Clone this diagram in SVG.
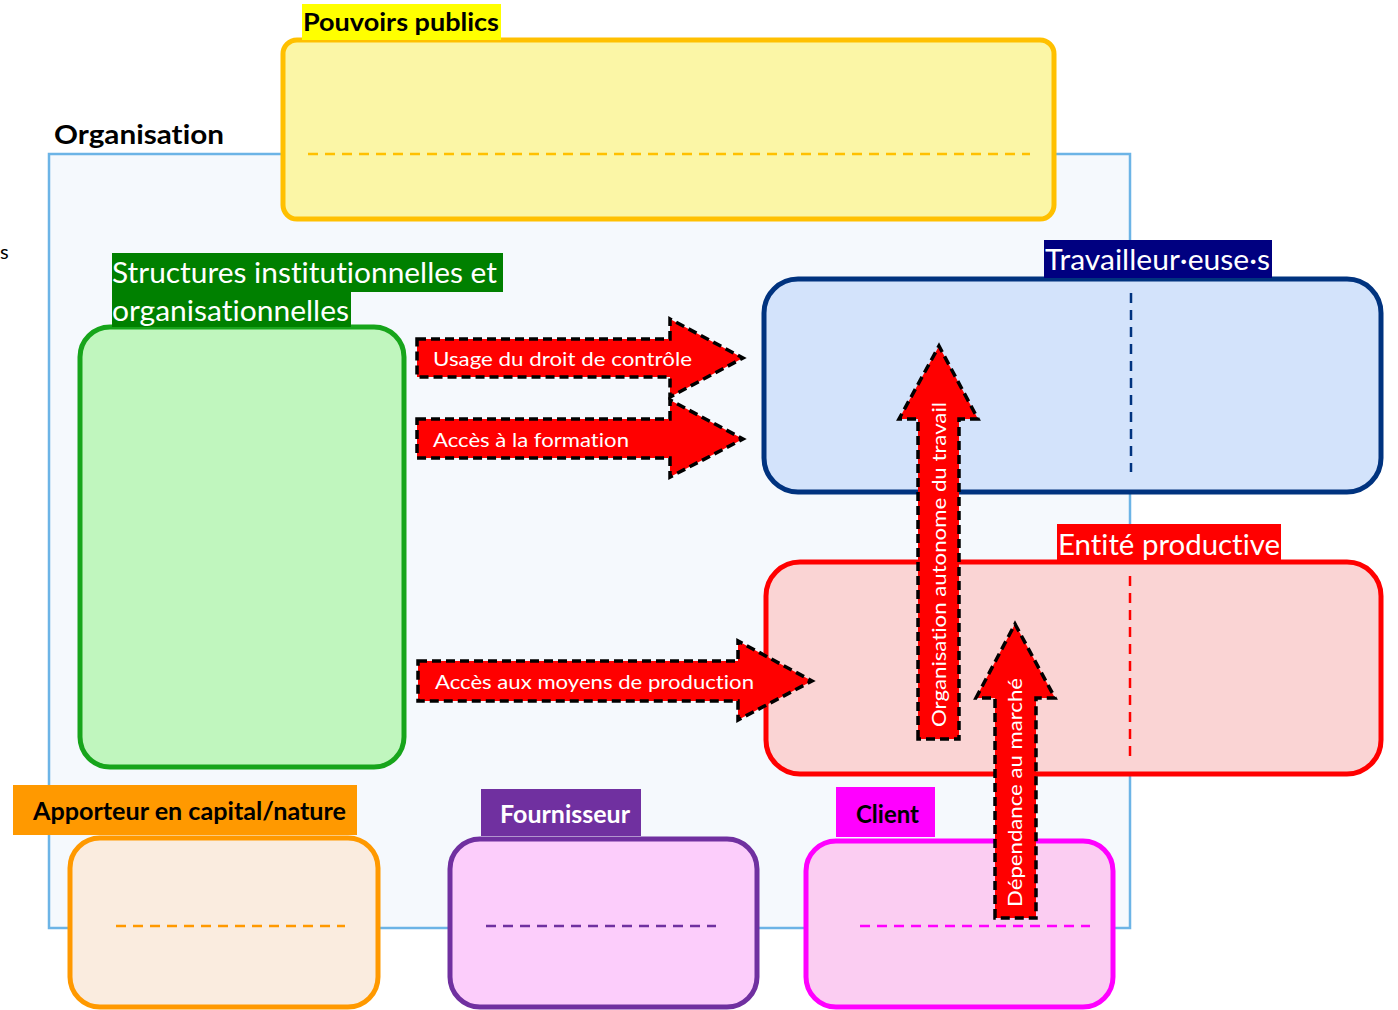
<svg xmlns="http://www.w3.org/2000/svg" width="1398" height="1010" viewBox="0 0 1398 1010">
  <style>
    .lbl { font-family: Lato, "Open Sans", "Liberation Sans", sans-serif; font-variant-ligatures: none; }
    .bold { font-weight: bold; }
    .white { fill: #ffffff; }
    .black { fill: #000000; }
    .box { stroke-width: 5; }
    .sep { stroke-width: 2.5; stroke-dasharray: 10 7; fill: none; }
    .arrow { fill: #ff0000; stroke: #000000; stroke-width: 3.5; stroke-dasharray: 9 5; stroke-linejoin: miter; }
    .atext { font-family: Lato, "Open Sans", "Liberation Sans", sans-serif; font-variant-ligatures: none; font-size: 20px; fill: #ffffff; }
  </style>

  <rect width="1398" height="1010" fill="#ffffff"/>

  <!-- stray label fragment at left border -->
  <text class="lbl black" x="0" y="259" font-size="20">s</text>

  <!-- Organisation container -->
  <g id="organisation">
    <rect x="49" y="154" width="1081" height="774" fill="#f5f9fd" stroke="#6cb4e6" stroke-width="2.5"/>
    <text class="lbl bold black" x="54" y="144" font-size="26" textLength="170" lengthAdjust="spacingAndGlyphs">Organisation</text>
  </g>

  <!-- Pouvoirs publics -->
  <g id="pouvoirs-publics">
    <rect x="283" y="40" width="771" height="179" rx="14" fill="#fbf6a6" stroke="#ffc000" class="box"/>
    <line x1="308" y1="154" x2="1030" y2="154" stroke="#ffc000" class="sep"/>
    <rect x="302" y="4" width="199" height="36" fill="#ffff00"/>
    <text class="lbl bold black" x="303" y="31" font-size="24" textLength="196" lengthAdjust="spacingAndGlyphs">Pouvoirs publics</text>
  </g>

  <!-- Structures institutionnelles et organisationnelles -->
  <g id="structures">
    <rect x="80" y="327" width="324" height="440" rx="30" fill="#c0f6be" stroke="#17a51b" class="box"/>
    <rect x="112" y="253" width="391" height="39" fill="#008000"/>
    <rect x="112" y="291" width="239" height="36" fill="#008000"/>
    <text class="lbl white" x="112" y="283" font-size="28" textLength="385" lengthAdjust="spacingAndGlyphs">Structures institutionnelles et</text>
    <text class="lbl white" x="112" y="321" font-size="28" textLength="237" lengthAdjust="spacingAndGlyphs">organisationnelles</text>
  </g>

  <!-- Travailleur·euse·s -->
  <g id="travailleurs">
    <rect x="764" y="279" width="617" height="213" rx="34" fill="#d3e3fb" stroke="#00337f" class="box"/>
    <line x1="1131" y1="293" x2="1131" y2="472" stroke="#00337f" class="sep"/>
    <rect x="1044" y="240" width="228" height="38" fill="#000080"/>
    <text class="lbl white" x="1045" y="270" font-size="28" textLength="225" lengthAdjust="spacingAndGlyphs">Travailleur·euse·s</text>
  </g>

  <!-- Entité productive -->
  <g id="entite-productive">
    <rect x="766" y="562" width="615" height="212" rx="34" fill="#fad4d4" stroke="#ff0000" class="box"/>
    <line x1="1130" y1="576" x2="1130" y2="756" stroke="#ff0000" class="sep"/>
    <rect x="1057" y="524" width="224" height="36" fill="#ff0000"/>
    <text class="lbl white" x="1058" y="555" font-size="28" textLength="222" lengthAdjust="spacingAndGlyphs">Entité productive</text>
  </g>

  <!-- Apporteur en capital/nature -->
  <g id="apporteur">
    <rect x="70" y="838" width="308" height="169" rx="30" fill="#faecdf" stroke="#ff9900" class="box"/>
    <line x1="116" y1="926" x2="345" y2="926" stroke="#ff9900" class="sep"/>
    <rect x="13" y="785" width="344" height="50" fill="#ff9900"/>
    <text class="lbl bold black" x="33" y="820" font-size="24" textLength="313" lengthAdjust="spacingAndGlyphs">Apporteur en capital/nature</text>
  </g>

  <!-- Fournisseur -->
  <g id="fournisseur">
    <rect x="450" y="839" width="307" height="168" rx="30" fill="#fccdfb" stroke="#7030a0" class="box"/>
    <line x1="486" y1="926" x2="716" y2="926" stroke="#7030a0" class="sep"/>
    <rect x="481" y="789" width="160" height="47" fill="#7030a0"/>
    <text class="lbl bold white" x="500" y="823" font-size="24" textLength="130" lengthAdjust="spacingAndGlyphs">Fournisseur</text>
  </g>

  <!-- Client -->
  <g id="client">
    <rect x="806" y="841" width="307" height="166" rx="30" fill="#fbcdf2" stroke="#ff00ff" class="box"/>
    <line x1="860" y1="926" x2="1090" y2="926" stroke="#ff00ff" class="sep"/>
    <rect x="836" y="787" width="99" height="50" fill="#ff00ff"/>
    <text class="lbl bold black" x="856" y="823" font-size="24" textLength="63" lengthAdjust="spacingAndGlyphs">Client</text>
  </g>

  <!-- Block arrows between the entities -->
  <g id="connectors">
    <g id="arrow-controle">
      <path class="arrow" d="M417,339 H670 V319 L743,358 L670,397 V377 H417 Z"/>
      <text class="atext" x="433" y="366" textLength="259" lengthAdjust="spacingAndGlyphs">Usage du droit de contrôle</text>
    </g>
    <g id="arrow-formation">
      <path class="arrow" d="M417,419 H670 V400 L743,439 L670,477 V458 H417 Z"/>
      <text class="atext" x="433" y="447" textLength="196" lengthAdjust="spacingAndGlyphs">Accès à la formation</text>
    </g>
    <g id="arrow-production">
      <path class="arrow" d="M418,661 H738 V641 L812,681 L738,720 V701 H418 Z"/>
      <text class="atext" x="435" y="689" textLength="319" lengthAdjust="spacingAndGlyphs">Accès aux moyens de production</text>
    </g>
    <g id="arrow-organisation-travail">
      <path class="arrow" d="M918,739 V419 H899 L939,346 L978,419 H959 V739 Z"/>
      <text class="atext" transform="translate(946,727) rotate(-90)" textLength="325" lengthAdjust="spacingAndGlyphs">Organisation autonome du travail</text>
    </g>
    <g id="arrow-marche">
      <path class="arrow" d="M995,918 V698 H976 L1015,624 L1055,698 H1036 V918 Z"/>
      <text class="atext" transform="translate(1022,907) rotate(-90)" textLength="229" lengthAdjust="spacingAndGlyphs">Dépendance au marché</text>
    </g>
  </g>
</svg>
